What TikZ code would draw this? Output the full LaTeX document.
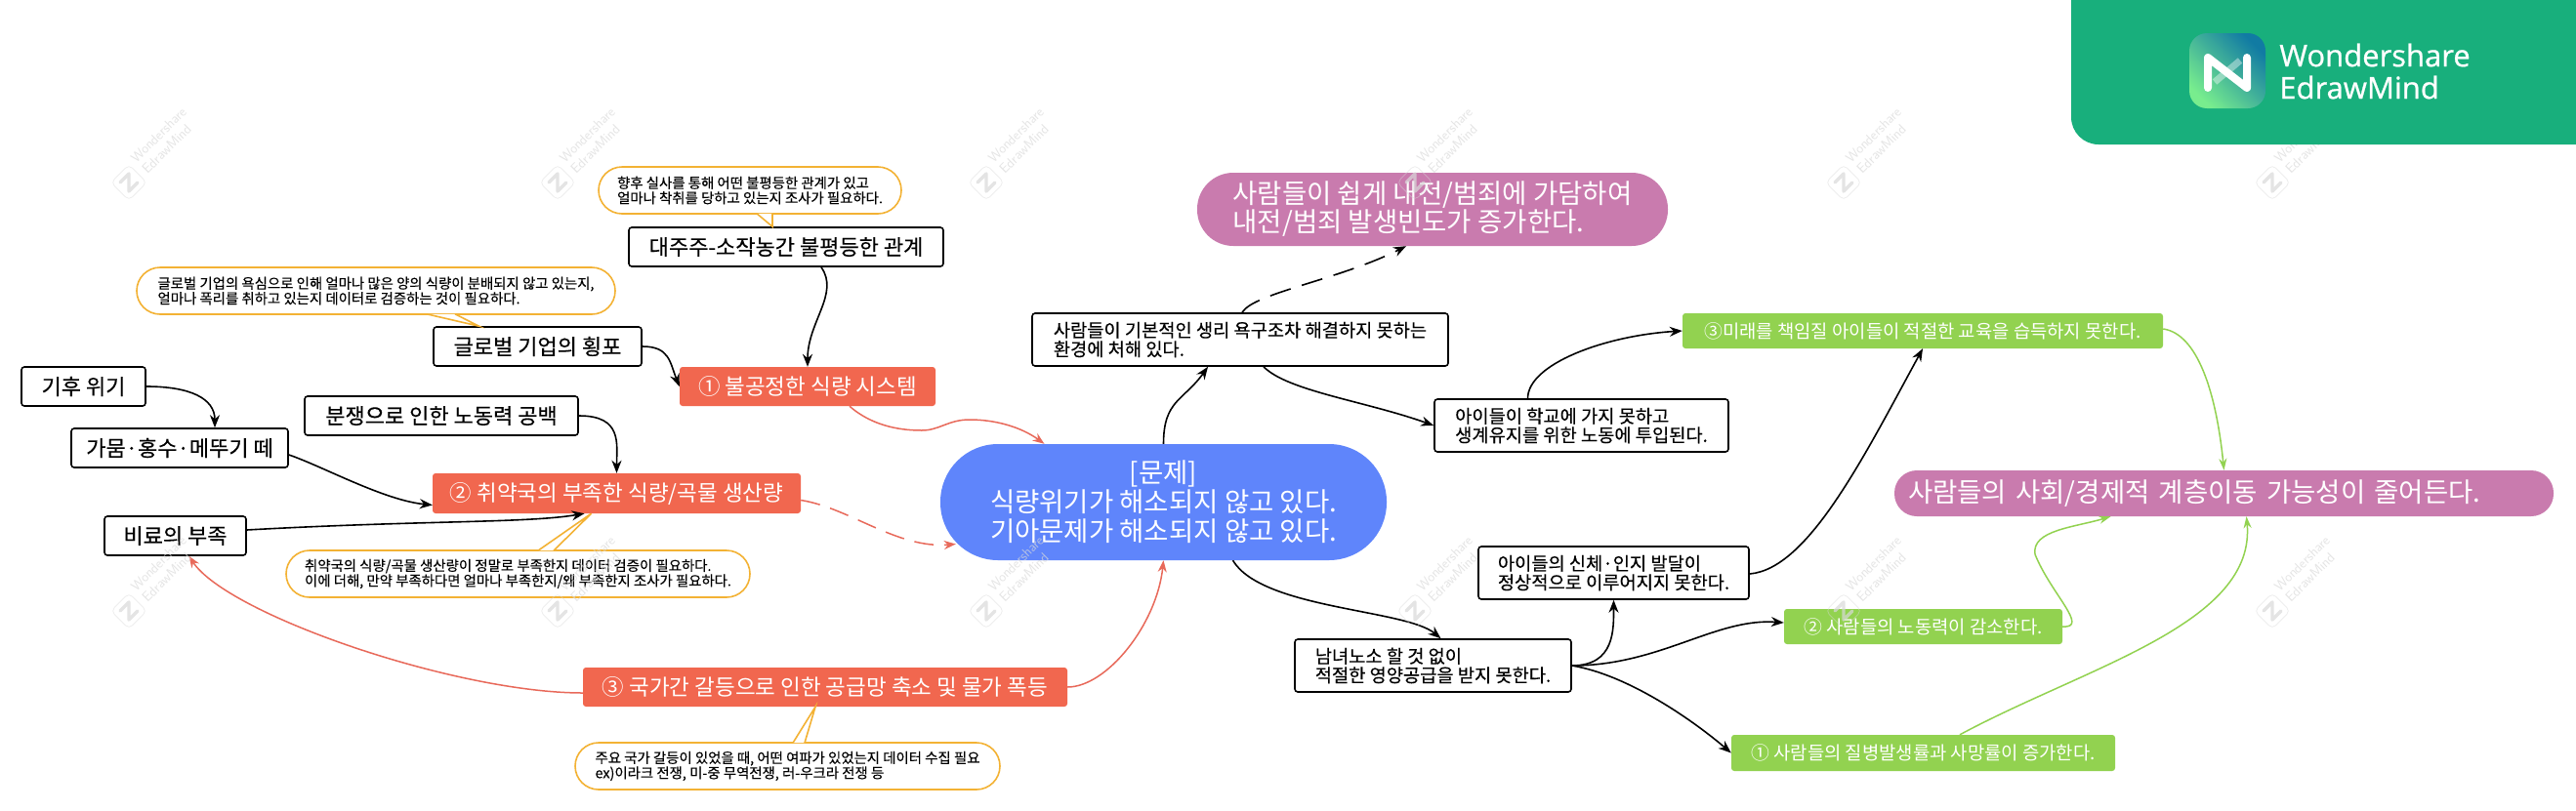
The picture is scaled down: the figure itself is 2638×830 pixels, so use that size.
\documentclass[tikz,border=0pt]{standalone}
\usepackage{fontspec}
\usepackage{xcolor}
\setmainfont{Noto Sans CJK KR}
\newfontfamily\inkfont[FakeBold=0.25]{Noto Sans CJK KR}
\newfontfamily\logofont[FakeBold=0.7]{Open Sans}
\usetikzlibrary{arrows.meta,positioning,calc}
\definecolor{Ink}{HTML}{000000}
\definecolor{Coral}{HTML}{F1674F}
\definecolor{CoralLine}{HTML}{E8695A}
\definecolor{Sky}{HTML}{5F85FB}
\definecolor{Plum}{HTML}{C97BAE}
\definecolor{Leaf}{HTML}{92D250}
\definecolor{Amber}{HTML}{F3B234}
\definecolor{Brand}{HTML}{18AF7C}
\definecolor{Mark}{HTML}{D9D9D9}
\tikzset{
  inkbox/.style={draw=Ink,fill=white,line width=1.6pt,rounded corners=3pt,inner sep=0pt,align=center,text=Ink,font=\inkfont\fontsize{22}{24}\selectfont},
  inkwide/.style={inkbox,align=left,font=\inkfont\fontsize{18.7}{19.5}\selectfont},
  coralbox/.style={fill=Coral,rounded corners=3pt,inner sep=0pt,align=center,text=white,font=\fontsize{22.5}{24}\selectfont},
  leafbox/.style={fill=Leaf,rounded corners=3pt,inner sep=0pt,align=center,text=white,font=\fontsize{18.8}{20}\selectfont},
  plumbox/.style={fill=Plum,inner sep=0pt,align=left,text=white,font=\fontsize{27.5}{29}\selectfont},
  callout/.style={draw=Amber,fill=white,line width=1.6pt,rounded corners=24pt,inner sep=0pt,align=left,text=Ink,font=\inkfont\fontsize{14.4}{15.5}\selectfont},
  tail/.style={draw=Amber,fill=white,line width=1.6pt},
  inkarr/.style={-{Stealth[length=13pt,width=10pt]},draw=Ink,line width=1.6pt},
  inkdash/.style={inkarr,dash pattern=on 22pt off 12pt},
  coralarr/.style={-{Stealth[length=12pt,width=9pt]},draw=CoralLine,line width=1.5pt},
  coraldash/.style={coralarr,dash pattern=on 20pt off 11pt},
  leafarr/.style={-{Stealth[length=12pt,width=8pt]},draw=Leaf,line width=1.5pt},
  wmtext/.style={rotate=45,align=left,inner sep=0pt,text=Mark,opacity=0.7,font=\sffamily\fontsize{14}{16}\selectfont},
  wmbox/.style={rotate=45,draw=Mark,opacity=0.5,line width=0.7pt,rounded corners=5pt,minimum size=26pt,inner sep=0pt}
}
\begin{document}
\begin{tikzpicture}[x=1pt,y=-1pt]
  \useasboundingbox[fill=white] (0,0) rectangle (2638,830);

  \node[callout,minimum width=310pt,minimum height=48pt] (talkfarm) at (768,195) {향후 실사를 통해 어떤 불평등한 관계가 있고\\얼마나 착취를 당하고 있는지 조사가 필요하다.};
  \node[inkbox,minimum width=322pt,minimum height=40pt] (landlord) at (805,253) {대주주-소작농간 불평등한 관계};
  \node[callout,minimum width=490pt,minimum height=48pt] (talkcorp) at (385,298) {글로벌 기업의 욕심으로 인해 얼마나 많은 양의 식량이 분배되지 않고 있는지,\\얼마나 폭리를 취하고 있는지 데이터로 검증하는 것이 필요하다.};
  \node[inkbox,minimum width=213pt,minimum height=40pt] (corp) at (550.5,355) {글로벌 기업의 횡포};
  \node[coralbox,minimum width=262pt,minimum height=40pt] (unfair) at (827,396) {① 불공정한 식량 시스템};
  \node[inkbox,minimum width=127pt,minimum height=40pt] (climate) at (85.5,396) {기후 위기};
  \node[inkbox,minimum width=222pt,minimum height=40pt] (drought) at (184,459) {가뭄·홍수·메뚜기 떼};
  \node[inkbox,minimum width=280pt,minimum height=40pt] (conflict) at (452,426) {분쟁으로 인한 노동력 공백};
  \node[coralbox,minimum width=377pt,minimum height=41pt] (shortage) at (631.5,505.5) {② 취약국의 부족한 식량/곡물 생산량};
  \node[inkbox,minimum width=145pt,minimum height=40pt] (fertilizer) at (179.5,549) {비료의 부족};
  \node[callout,minimum width=475pt,minimum height=48pt] (talkcrop) at (530.5,588) {취약국의 식량/곡물 생산량이 정말로 부족한지 데이터 검증이 필요하다.\\이에 더해, 만약 부족하다면 얼마나 부족한지/왜 부족한지 조사가 필요하다.};
  \node[coralbox,minimum width=496pt,minimum height=40pt] (supply) at (845,704) {③ 국가간 갈등으로 인한 공급망 축소 및 물가 폭등};
  \node[callout,minimum width=435pt,minimum height=48pt] (talkwar) at (806.5,785) {주요 국가 갈등이 있었을 때, 어떤 여파가 있었는지 데이터 수집 필요\\ex)이라크 전쟁, 미-중 무역전쟁, 러-우크라 전쟁 등};

  \node[fill=Sky,rounded corners=59pt,inner sep=0pt,minimum width=457pt,minimum height=119pt,align=center,text=white,font=\fontsize{27.5}{30}\selectfont] (hunger) at (1191.5,514.5) {[문제]\\식량위기가 해소되지 않고 있다.\\기아문제가 해소되지 않고 있다.};
  \node[plumbox,rounded corners=37pt,minimum width=482pt,minimum height=75pt] (crime) at (1467,214.5) {사람들이 쉽게 내전/범죄에 가담하여\\내전/범죄 발생빈도가 증가한다.};
  \node[plumbox,rounded corners=23pt,minimum width=675pt,minimum height=47pt,text width=647pt] (mobility) at (2277.5,505.5) {사람들의 사회/경제적 계층이동 가능성이 줄어든다.};
  \node[inkwide,minimum width=426pt,minimum height=54pt] (basic) at (1270,348) {사람들이 기본적인 생리 욕구조차 해결하지 못하는\\환경에 처해 있다.};
  \node[inkwide,minimum width=301pt,minimum height=54pt] (labor) at (1619.5,436) {아이들이 학교에 가지 못하고\\생계유지를 위한 노동에 투입된다.};
  \node[inkwide,minimum width=277pt,minimum height=54pt] (growth) at (1652.5,587) {아이들의 신체·인지 발달이\\정상적으로 이루어지지 못한다.};
  \node[inkwide,minimum width=283pt,minimum height=54pt] (nutrition) at (1467.5,682) {남녀노소 할 것 없이\\적절한 영양공급을 받지 못한다.};
  \node[leafbox,minimum width=492pt,minimum height=36pt] (school) at (1969,339) {③미래를 책임질 아이들이 적절한 교육을 습득하지 못한다.};
  \node[leafbox,minimum width=285pt,minimum height=36pt] (workforce) at (1969.5,642) {② 사람들의 노동력이 감소한다.};
  \node[leafbox,minimum width=393pt,minimum height=37pt] (disease) at (1969.5,771.5) {① 사람들의 질병발생률과 사망률이 증가한다.};

  \coordinate (wavelow) at (944,441);
  \coordinate (wavehigh) at (993,430);
  \coordinate (hook) at (2084,568);

  \draw[tail] ([xshift=7pt,yshift=1pt]talkfarm.south) -- ([xshift=23pt]talkfarm.south |- landlord.north) -- ([xshift=23pt,yshift=1pt]talkfarm.south);
  \draw[tail] ([xshift=52pt,yshift=1pt]talkcorp.south) -- ([xshift=-60pt]corp.north) -- ([xshift=81pt,yshift=1pt]talkcorp.south);
  \draw[tail] ([xshift=20.5pt,yshift=-1pt]talkcrop.north) -- ([xshift=-26pt]shortage.south) -- ([xshift=36.5pt,yshift=-1pt]talkcrop.north);
  \draw[tail] ([xshift=5.5pt,yshift=-1pt]talkwar.north) -- ([xshift=-10pt]supply.south) -- ([xshift=17.5pt,yshift=-1pt]talkwar.north);

  \draw[inkarr] ([xshift=36pt]landlord.south) .. controls +(19,27) and +(0,-46) .. (unfair.north);
  \draw[inkarr] (corp.east) .. controls +(28,0) and +(-10,-25) .. (unfair.west);
  \draw[inkarr] (climate.east) .. controls +(45,0) and +(0,-30) .. ([xshift=36pt]drought.north);
  \draw[inkarr] ([yshift=-7pt]drought.east) .. controls +(35,12) and +(-50,-5) .. ([yshift=-12pt]shortage.west);
  \draw[inkarr] (conflict.east) .. controls +(45,0) and +(0,-30) .. (shortage.north);
  \draw[inkarr] ([yshift=6pt]fertilizer.east) .. controls +(180,-10) and +(-60,10) .. ([xshift=-33pt]shortage.south);
  \draw[coralarr] ([xshift=43pt]unfair.south) .. controls +(25,22) and +(-18,0) .. (wavelow) .. controls +(18,0) and +(-22,0) .. (wavehigh) .. controls +(25,0) and +(-25,-18) .. ([xshift=-122pt]hunger.north);
  \draw[coraldash] ([yshift=-7pt]shortage.east) .. controls +(50,8) and +(-60,5) .. ([xshift=16pt,yshift=-43pt]hunger.west);
  \draw[coralarr] ([yshift=-6pt]supply.west) .. controls +(-130,0) and +(40,60) .. ([xshift=14pt]fertilizer.south);
  \draw[coralarr] (supply.east) .. controls +(40,0) and +(-7,66) .. (hunger.south);
  \draw[inkarr] (hunger.north) .. controls +(0,-45) and +(-25,35) .. ([xshift=-33pt]basic.south);
  \draw[inkdash] ([xshift=2pt]basic.north) .. controls +(12,-20) and +(-70,35) .. ([xshift=-27pt]crime.south);
  \draw[inkarr] ([xshift=24pt]basic.south) .. controls +(25,25) and +(-70,-25) .. (labor.west);
  \draw[inkarr] ([xshift=-55pt]labor.north) .. controls +(0,-35) and +(-80,5) .. (school.west);
  \draw[inkarr] ([xshift=71pt]hunger.south) .. controls +(30,50) and +(-36,-30) .. ([xshift=8pt]nutrition.north);
  \draw[inkarr] (nutrition.east) .. controls +(44,0) and +(0,30) .. (growth.south);
  \draw[inkarr] (nutrition.east) .. controls +(90,0) and +(-70,-5) .. ([yshift=4pt]workforce.west);
  \draw[inkarr] (nutrition.east) .. controls +(60,10) and +(-35,-30) .. (disease.west);
  \draw[inkarr] ([yshift=-1pt]growth.east) .. controls +(60,-5) and +(-60,110) .. (school.south);
  \draw[leafarr] ([yshift=2pt]school.east) .. controls +(35,5) and +(-8,-80) .. (mobility.north);
  \draw[leafarr] (workforce.east) .. controls +(28,2) and +(16,40) .. (hook) .. controls +(-4,-25) and +(-36,11) .. ([xshift=-116pt]mobility.south);
  \draw[leafarr] ([xshift=37.5pt]disease.north) .. controls +(130,-70) and +(10,110) .. ([xshift=23pt]mobility.south);

  \foreach \wx in {132,571,1010,1449,1888,2327} {
    \foreach \wy in {187,626} {
      \node[wmtext] (wmname\wx\wy) at (\wx+36,\wy-43) {Wondershare\\EdrawMind};
      \node[wmbox] (wmframe\wx\wy) at (\wx,\wy) {};
      \draw[draw=Mark,opacity=0.7,line width=3.4pt,line join=round,line cap=round] ($(\wx,\wy)+(-9,0)$) -- ($(\wx,\wy)+(0,-9)$) -- ($(\wx,\wy)+(0,9)$) -- ($(\wx,\wy)+(9,0)$);
    }
  }

  \fill[Brand,rounded corners=28pt] (2121,-40) rectangle (2700,148);
  \shade[rounded corners=18pt,left color=Brand!40!green!55!white,right color=Brand!70!blue,shading angle=135] (2242,34) rectangle (2320,111);
  \draw[white,line width=8pt,line cap=round,line join=round] (2261,90) -- (2261,59) -- (2301,90) -- (2301,59);
  \draw[white,opacity=0.4,line width=7pt] (2268,84) -- (2294,62);
  \node[inner sep=0pt,align=left,text=white,font=\logofont\fontsize{31}{33}\selectfont] (brand) at (2432,73) {Wondershare\\EdrawMind};
\end{tikzpicture}
\end{document}
